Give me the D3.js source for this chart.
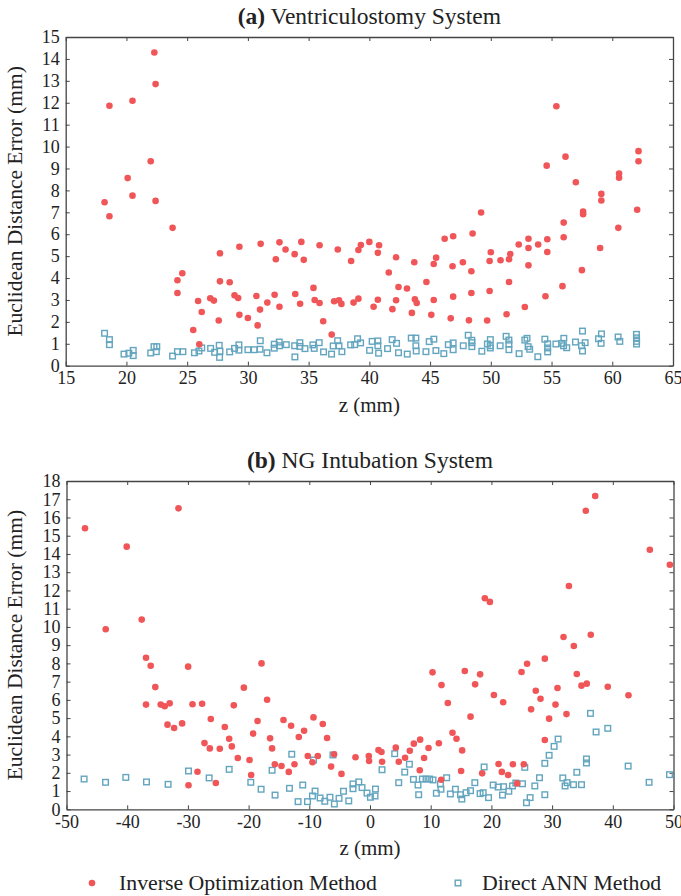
<!DOCTYPE html>
<html lang="en">
<head>
<meta charset="utf-8">
<title>Euclidean Distance Error</title>
<script src="https://d3js.org/d3.v7.min.js"></script>
<style>
  body { margin: 0; background: #fff; }
  svg text { font-family: "Liberation Serif", "Times New Roman", serif; fill: #222; }
</style>
</head>
<body>
<script>
// (a) Ventriculostomy System: [z (mm), error (mm)]
var ventInverse = [
  [18.2,7.46],[18.6,6.82],[18.6,11.86],[20.1,8.56],[20.5,12.09],[20.5,7.76],[22.0,9.33],[22.3,14.29],
  [22.4,12.85],[22.4,7.52],[23.8,6.29],[24.6,4.22],[24.2,3.9],[24.2,3.32],[25.9,2.95],[26.2,2.45],
  [25.5,1.63],[26.0,0.98],[27.7,5.13],[27.7,3.85],[28.5,3.81],[26.9,3.08],[27.2,2.97],[27.6,2.06],
  [28.9,3.21],[29.2,3.09],[29.3,5.43],[29.3,2.32],[30.0,2.18],[30.8,1.84],[30.7,3.18],[31.0,2.56],
  [31.05,5.56],[31.6,2.88],[32.2,3.24],[32.3,4.86],[32.6,2.69],[32.6,5.63],[33.1,5.3],[33.85,5.09],
  [33.9,3.27],[34.3,2.83],[34.4,5.65],[34.6,4.83],[35.4,3.55],[35.5,3.0],[35.9,2.86],[35.9,5.5],
  [36.2,2.03],[36.9,1.42],[37.1,2.94],[37.5,2.99],[37.7,2.82],[37.4,5.3],[38.5,4.78],[38.7,2.88],
  [39.1,3.06],[39.1,5.28],[39.3,5.51],[40.0,5.65],[40.35,2.69],[40.7,3.01],[40.7,5.15],[40.8,5.5],
  [41.6,4.25],[41.9,2.58],[42.2,4.95],[42.2,2.99],[42.4,3.59],[43.1,3.52],[43.5,2.41],[43.7,4.72],
  [43.75,3.03],[43.9,2.86],[44.7,3.82],[45.1,2.32],[45.3,3.0],[45.3,4.64],[45.5,4.93],[46.2,5.79],
  [46.7,2.16],[46.85,4.54],[46.9,3.15],[46.9,5.91],[47.7,4.72],[48.5,6.03],[48.4,4.31],[48.4,3.32],
  [48.2,2.07],[49.2,6.99],[50.0,5.18],[49.9,4.78],[49.9,3.41],[49.7,2.06],[50.8,4.81],[51.3,2.35],
  [51.5,3.82],[51.5,4.86],[51.6,5.1],[52.3,5.53],[52.8,2.68],[53.1,5.37],[53.1,4.58],[53.1,5.79],
  [53.9,5.53],[54.5,3.17],[54.65,5.77],[54.65,5.19],[55.9,3.63],[56.0,6.53],[56.0,5.86],[57.0,8.37],
  [57.5,4.36],[57.6,7.03],[57.6,6.91],[59.1,7.84],[59.1,7.54],[59.0,5.37],[60.5,6.29],[60.56,8.77],
  [60.56,8.58],[62.05,7.12],[62.16,9.79],[62.16,9.33],[55.4,11.84],[56.15,9.54],[54.6,9.13]
];
var ventAnn = [
  [18.2,1.48],[18.6,1.19],[18.6,0.96],[19.8,0.53],[20.2,0.57],[20.56,0.7],[20.56,0.46],[22.0,0.58],
  [22.27,0.87],[22.5,0.87],[22.46,0.64],[23.8,0.44],[24.2,0.64],[24.65,0.64],[25.6,0.59],[25.97,0.67],
  [26.2,0.81],[26.93,0.79],[27.26,0.61],[27.64,0.93],[27.7,0.66],[27.67,0.38],[28.5,0.63],[28.9,0.79],
  [29.26,0.95],[29.26,0.71],[30.0,0.73],[30.52,0.73],[31.02,1.14],[31.0,0.75],[31.57,0.59],[32.17,0.98],
  [32.17,0.8],[32.58,1.08],[32.6,0.91],[33.16,0.96],[33.85,0.91],[33.87,0.4],[34.28,1.05],[34.28,0.88],
  [34.7,0.78],[35.35,0.95],[35.46,0.79],[35.87,1.05],[36.23,0.63],[36.89,0.53],[37.02,0.9],[37.39,1.14],
  [37.5,0.91],[37.74,0.64],[38.46,0.95],[38.79,0.96],[39.03,1.23],[39.28,1.04],[40.02,0.7],[40.23,1.11],
  [40.7,1.13],[40.76,0.57],[40.7,0.91],[41.5,0.78],[41.88,1.19],[42.24,1.02],[42.4,0.59],[43.12,0.53],
  [43.45,1.26],[43.83,1.26],[43.83,0.91],[43.86,0.67],[44.66,0.64],[44.93,1.1],[45.31,1.21],[45.48,0.69],
  [46.13,0.55],[46.5,0.96],[46.9,1.04],[46.9,0.73],[47.73,0.91],[48.14,1.39],[48.44,1.16],[48.44,1.05],
  [48.44,0.87],[49.26,0.66],[49.72,0.99],[49.96,1.19],[49.96,0.91],[49.96,0.81],[50.77,0.91],[51.26,1.34],
  [51.49,1.17],[51.49,0.99],[51.49,0.73],[52.33,0.55],[52.8,1.17],[52.98,1.25],[53.07,0.87],[53.2,0.75],
  [53.87,0.41],[54.45,1.21],[54.68,1.0],[54.68,0.81],[54.68,0.63],[55.36,0.99],[55.85,1.02],[55.99,0.91],
  [56.01,1.25],[56.25,0.82],[56.97,1.08],[57.47,0.91],[57.55,0.67],[57.55,1.58],[57.77,1.05],[58.87,1.23],
  [59.11,1.45],[59.08,1.02],[60.48,1.31],[60.62,1.11],[61.99,1.43],[62.0,1.27],[62.0,1.11],[62.0,0.99]
];

// (b) NG Intubation System: [z (mm), error (mm)]
var ngInverse = [
  [-46.95,15.41],[-40.08,14.4],[-31.55,16.5],[-43.54,9.87],[-37.61,10.4],[-36.9,8.31],[-36.13,7.87],
  [-35.37,6.7],[-36.9,5.74],[-34.48,5.74],[-33.82,5.65],[-33.0,5.81],[-33.36,4.64],[-32.27,4.46],
  [-30.95,4.71],[-29.96,7.82],[-29.24,5.76],[-28.42,2.06],[-29.9,1.32],[-27.66,5.79],[-27.27,3.63],
  [-26.23,4.95],[-26.39,3.34],[-25.4,1.44],[-24.75,3.32],[-23.92,4.51],[-23.2,3.87],[-22.77,3.45],
  [-22.44,5.7],[-21.78,2.81],[-20.78,6.67],[-19.85,2.7],[-19.58,1.88],[-19.25,4.15],[-18.53,4.84],
  [-17.87,8.0],[-16.95,6.01],[-16.46,3.89],[-16.13,3.34],[-15.68,2.47],[-14.58,2.37],[-14.25,4.9],
  [-13.38,2.05],[-13.0,4.58],[-12.44,2.47],[-11.73,3.96],[-10.86,4.31],[-10.25,2.92],[-9.48,2.58],
  [-9.31,5.04],[-8.6,2.92],[-7.78,4.68],[-7.07,3.91],[-6.41,2.34],[-5.92,3.02],[-4.7,1.94],
  [-2.39,2.85],[-0.2,2.92],[-0.15,2.65],[1.4,3.25],[1.89,3.14],[1.99,2.61],[4.25,3.38],[4.74,2.61],
  [5.78,2.83],[6.56,3.21],[7.22,3.6],[8.26,3.82],[8.2,2.14],[8.91,2.81],[9.64,3.36],[11.34,3.62],
  [11.72,1.62],[10.3,7.51],[11.78,6.81],[12.82,5.83],[13.59,4.2],[14.25,3.87],[15.62,7.58],[17.32,6.85],
  [18.14,7.4],[16.56,5.08],[15.18,3.23],[15.01,2.1],[18.48,1.97],[20.41,6.27],[21.18,2.48],[21.72,2.05],
  [21.94,5.87],[22.76,1.88],[23.54,2.47],[24.24,1.42],[24.96,7.53],[25.34,2.47],[25.88,7.98],[26.54,5.48],
  [27.31,6.5],[28.09,6.06],[28.8,8.26],[28.8,3.8],[29.51,4.97],[30.56,5.74],[30.89,6.65],[32.37,5.22],
  [31.88,9.45],[33.58,8.95],[34.07,7.42],[34.84,6.78],[35.71,6.89],[36.37,9.57],[39.17,6.72],[42.58,6.25],
  [37.1,17.18],[35.55,16.37],[46.1,14.23],[49.4,13.41],[32.77,12.24],[18.92,11.57],[19.75,11.37]
];
var ngAnn = [
  [-47.1,1.66],[-43.57,1.48],[-40.23,1.75],[-36.82,1.5],[-33.26,1.37],[-29.9,2.1],[-26.5,1.72],[-23.2,2.19],
  [-19.64,1.48],[-17.94,1.1],[-16.13,2.14],[-15.64,0.78],[-13.27,1.15],[-12.89,3.02],[-11.85,0.42],
  [-11.08,1.33],[-10.3,0.42],[-9.48,0.73],[-9.31,2.7],[-9.05,1.0],[-8.22,0.62],[-7.45,0.44],[-6.6,0.66],
  [-6.1,2.98],[-5.87,0.29],[-5.1,0.6],[-4.37,0.99],[-3.5,0.46],[-2.8,1.39],[-2.8,1.13],[-1.85,1.5],
  [-1.31,1.19],[-0.49,0.89],[0.07,0.66],[0.9,1.11],[0.83,0.73],[1.98,2.17],[4.07,3.05],[4.73,1.46],
  [5.72,2.04],[6.49,2.47],[7.15,1.64],[7.91,1.33],[8.02,0.8],[8.63,1.66],[9.23,1.66],[9.83,1.66],
  [10.38,1.61],[10.93,0.88],[11.6,1.39],[11.69,1.1],[12.63,1.73],[13.24,0.84],[14.07,1.1],[14.91,0.8],
  [15.13,0.56],[15.84,0.91],[16.56,1.02],[17.27,1.46],[18.14,0.86],[18.64,0.91],[18.8,2.32],[19.53,0.64],
  [20.29,1.33],[21.11,1.22],[21.83,0.78],[22.0,1.24],[22.87,0.99],[23.48,1.28],[24.02,1.44],[25.12,1.4],
  [25.5,2.3],[25.78,0.36],[26.38,0.64],[27.15,1.28],[27.92,1.73],[28.8,0.8],[28.8,2.52],[29.51,2.96],
  [30.33,3.45],[30.99,3.85],[31.76,1.72],[32.14,1.28],[32.47,1.46],[33.52,1.35],[34.07,2.03],[34.84,1.35],
  [35.66,2.54],[35.66,2.76],[36.32,5.26],[37.25,4.24],[39.17,4.44],[42.53,2.37],[45.98,1.48],[49.34,1.9]
];

var ventXTicks = d3.range(15, 66, 5);
var ventYTicks = d3.range(0, 16, 1);
var ngXTicks = d3.range(-50, 51, 10);
var ngYTicks = d3.range(0, 19, 1);

var seriesNames = ["Inverse Optimization Method", "Direct ANN Method"];

var w = 681, h = 896;
var red = "#f05558", blue = "#63a5bf", axisColor = "#444";

var svg = d3.select("body").append("svg")
    .attr("width", w)
    .attr("height", h);

function panel(opts) {
  var x = d3.scaleLinear().domain(opts.xDomain).range([opts.left, opts.right]);
  var y = d3.scaleLinear().domain(opts.yDomain).range([opts.bottom, opts.top]);
  var g = svg.append("g");
  var fmt = d => String(d);

  // inward ticks on all four sides
  var axes = [
    [d3.axisBottom(x).tickValues(opts.xTicks).tickFormat(fmt), 0, opts.bottom, 6],
    [d3.axisTop(x).tickValues(opts.xTicks).tickFormat(""), 0, opts.top, 0],
    [d3.axisLeft(y).tickValues(opts.yTicks).tickFormat(fmt), opts.left, 0, 6],
    [d3.axisRight(y).tickValues(opts.yTicks).tickFormat(""), opts.right, 0, 0]
  ];
  axes.forEach(function(a) {
    var ax = g.append("g")
      .attr("transform", `translate(${a[1]},${a[2]})`)
      .call(a[0].tickSizeInner(-4).tickSizeOuter(0).tickPadding(a[3]));
    ax.select(".domain").attr("stroke", axisColor).attr("stroke-width", 1.3);
    ax.selectAll(".tick line").attr("stroke", axisColor);
    ax.selectAll("text").attr("font-size", 18).attr("fill", "#222");
  });

  // title
  var t = g.append("text")
    .attr("x", (opts.left + opts.right) / 2)
    .attr("y", opts.top - 13)
    .attr("text-anchor", "middle")
    .attr("font-size", 23.5);
  t.append("tspan").attr("font-weight", "bold").text(opts.tag);
  t.append("tspan").text(" " + opts.title);

  g.append("text")
    .attr("x", (opts.left + opts.right) / 2)
    .attr("y", opts.bottom + 46)
    .attr("text-anchor", "middle")
    .attr("font-size", 21)
    .text("z (mm)");

  g.append("text")
    .attr("transform", `translate(22,${(opts.top + opts.bottom) / 2}) rotate(-90)`)
    .attr("text-anchor", "middle")
    .attr("font-size", 21.5)
    .text("Euclidean Distance Error (mm)");

  g.append("g").selectAll("rect")
    .data(opts.ann)
    .enter().append("rect")
    .attr("x", d => x(d[0]) - 2.8)
    .attr("y", d => y(d[1]) - 2.8)
    .attr("width", 5.6)
    .attr("height", 5.6)
    .attr("fill", "none")
    .attr("stroke", blue)
    .attr("stroke-width", 1.4);

  g.append("g").selectAll("circle")
    .data(opts.inverse)
    .enter().append("circle")
    .attr("cx", d => x(d[0]))
    .attr("cy", d => y(d[1]))
    .attr("r", 3.3)
    .attr("fill", red);
}

panel({
  left: 65.7, right: 673, top: 37, bottom: 365.7,
  xDomain: [15, 65], yDomain: [0, 15],
  xTicks: ventXTicks, yTicks: ventYTicks,
  tag: "(a)", title: "Ventriculostomy System",
  inverse: ventInverse, ann: ventAnn
});

panel({
  left: 66.5, right: 673.5, top: 481, bottom: 809.3,
  xDomain: [-50, 50], yDomain: [0, 18],
  xTicks: ngXTicks, yTicks: ngYTicks,
  tag: "(b)", title: "NG Intubation System",
  inverse: ngInverse, ann: ngAnn
});

// legend
var legend = svg.append("g").attr("transform", "translate(0,883)");
legend.append("circle").attr("cx", 92).attr("cy", 0).attr("r", 3.3).attr("fill", red);
legend.append("text").attr("x", 119).attr("y", 7).attr("font-size", 21.8).text(seriesNames[0]);
legend.append("rect").attr("x", 455.2).attr("y", -2.8).attr("width", 5.6).attr("height", 5.6)
  .attr("fill", "none").attr("stroke", blue).attr("stroke-width", 1.4);
legend.append("text").attr("x", 482).attr("y", 7).attr("font-size", 21.8).text(seriesNames[1]);
</script>
</body>
</html>
